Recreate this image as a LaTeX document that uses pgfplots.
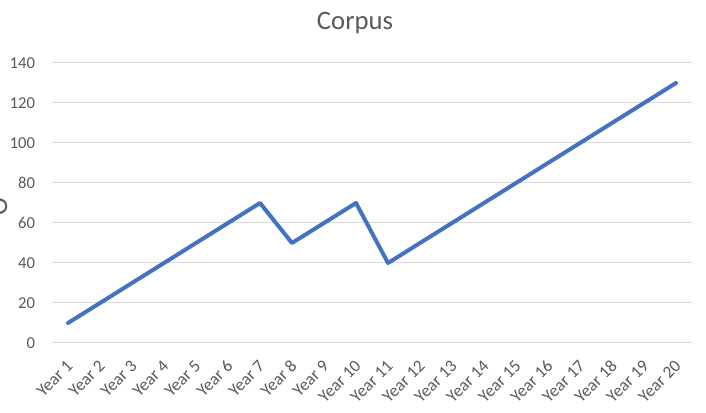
\documentclass[border=0pt]{standalone}
\usepackage{pgfplots}
\pgfplotsset{compat=1.18}
\usepackage{fontspec}
\setmainfont{Carlito}
\definecolor{linecol}{HTML}{4472C4}
\definecolor{txt}{HTML}{595959}
\definecolor{gridcol}{HTML}{D9D9D9}
\begin{document}
\begin{tikzpicture}[x=0.75pt,y=0.75pt]
\useasboundingbox (0,0) rectangle (706,413);
\clip (0,0) rectangle (706,413);
\node[text=txt, font=\fontsize{20}{24}\selectfont] at (355,390) {Corpus};
\node[text=txt, rotate=90, font=\fontsize{20}{24}\selectfont, inner sep=0pt] at (-1.5,206) {O};
\begin{axis}[
  at={(39pt,52.5pt)}, anchor=south west,
  scale only axis, width=480pt, height=210pt,
  xmin=0.5, xmax=20.5, ymin=0, ymax=140,
  axis line style={draw=none},
  ytick={0,20,...,140},
  xtick={1,...,20},
  xticklabels={Year 1,Year 2,Year 3,Year 4,Year 5,Year 6,Year 7,Year 8,Year 9,Year 10,Year 11,Year 12,Year 13,Year 14,Year 15,Year 16,Year 17,Year 18,Year 19,Year 20},
  major tick length=0pt,
  ymajorgrids, xmajorgrids=false,
  grid style={draw=gridcol, line width=0.75pt},
  yticklabel style={text=txt, font=\fontsize{12.5}{14}\selectfont, anchor=east, inner sep=0pt, xshift=-12.5pt},
  xticklabel style={text=txt, font=\fontsize{13}{15}\selectfont, xshift=1.5pt, yshift=-15pt, rotate=45, anchor=east, inner sep=0pt},
  /pgf/number format/assume math mode=true,
  clip=false,
]
\addplot[linecol, line width=3pt, line join=round, line cap=round] coordinates {
(1,10)(2,20)(3,30)(4,40)(5,50)(6,60)(7,70)(8,50)(9,60)(10,70)
(11,40)(12,50)(13,60)(14,70)(15,80)(16,90)(17,100)(18,110)(19,120)(20,130)
};
\end{axis}
\end{tikzpicture}
\end{document}
